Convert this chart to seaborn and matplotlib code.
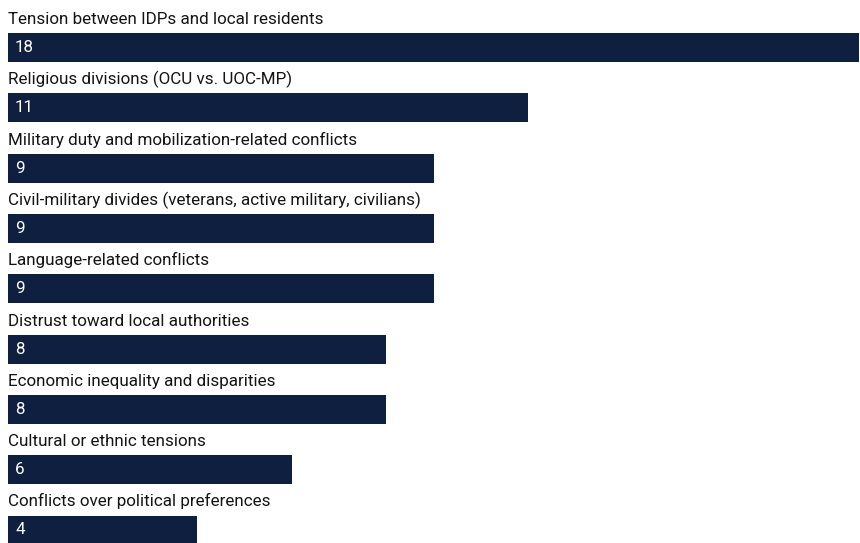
import matplotlib
matplotlib.use("Agg")
import matplotlib.pyplot as plt
import seaborn as sns
import pandas as pd

categories = [
    "Tension between IDPs and local residents",
    "Religious divisions (OCU vs. UOC-MP)",
    "Military duty and mobilization-related conflicts",
    "Civil-military divides (veterans, active military, civilians)",
    "Language-related conflicts",
    "Distrust toward local authorities",
    "Economic inequality and disparities",
    "Cultural or ethnic tensions",
    "Conflicts over political preferences",
]
values = [18, 11, 9, 9, 9, 8, 8, 6, 4]

df = pd.DataFrame({"category": categories, "value": values})

sns.set_theme(style="white")
plt.rcParams["font.family"] = ["Roboto", "DejaVu Sans"]

fig = plt.figure(figsize=(8.6, 5.43), dpi=100)
ax = fig.add_axes([8 / 860, 0, 851 / 860, 1])

bar_color = "#0f1f40"
sns.barplot(data=df, x="value", y="category", orient="h", color=bar_color,
            width=0.48, saturation=1, linewidth=0, ax=ax)

ax.set_xlim(0, 18)
ax.set_ylim(8 + 13 / 60.3, -47.5 / 60.3)
ax.axis("off")

for i, (cat, v) in enumerate(zip(categories, values)):
    ax.text(0, i - 0.39, cat, ha="left", va="baseline", fontsize=12.25, color="#141414")
    ax.text(0.15, i, str(v), ha="left", va="center", fontsize=12.25, color="white")

fig.savefig("out.png", dpi=100)
